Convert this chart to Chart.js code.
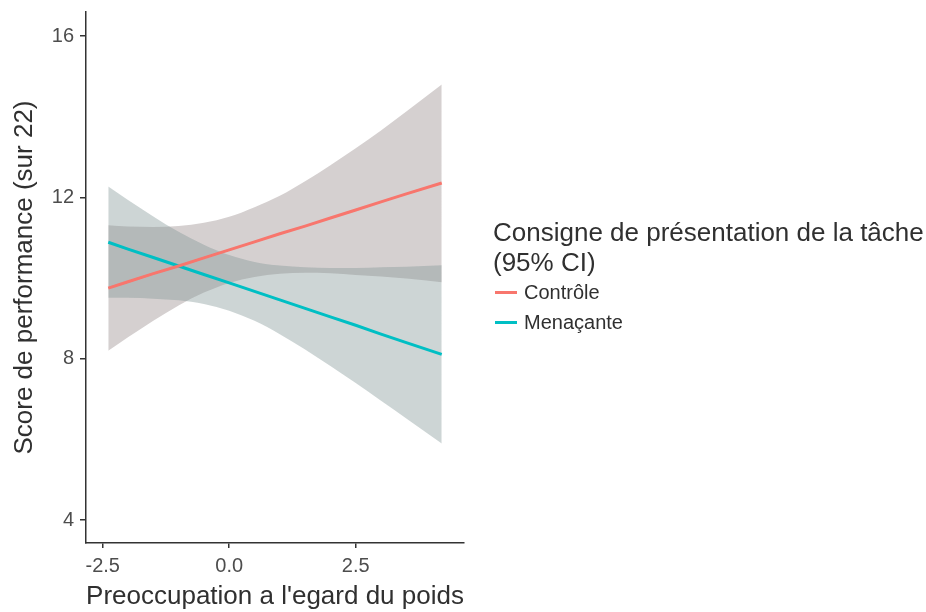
<!DOCTYPE html>
<html>
<head>
<meta charset="utf-8">
<script src="https://cdn.jsdelivr.net/npm/chart.js@4/dist/chart.umd.min.js"></script>
<style>
  body { margin: 0; background: #fff; font-family: "Liberation Sans", Arial, sans-serif; }
  #wrap { position: relative; width: 926px; height: 612px; }
  #legend { position: absolute; left: 493px; top: 217px; color: #303030; }
  #legend .title { font-size: 26px; line-height: 30px; }
  #legend .item { font-size: 20px; line-height: 30px; height: 30px; display: flex; align-items: center; }
  #legend .swatch { width: 22px; height: 3px; margin: 0 7px 0 2px; }
</style>
</head>
<body>
<div id="wrap">
  <canvas id="chart" width="926" height="612"></canvas>
  <div id="legend">
    <div class="title">Consigne de présentation de la tâche<br>(95% CI)</div>
    <div class="item"><span class="swatch" style="background:#F8766D"></span>Contrôle</div>
    <div class="item"><span class="swatch" style="background:#00BFC4"></span>Menaçante</div>
  </div>
</div>
<script>
// x positions of the fitted curves (preoccupation score)
const xGrid = [-2.39, -2, -1.5, -1, -0.5, 0, 0.5, 1, 1.5, 2, 2.5, 3, 3.5, 4.2];

// Contrôle: fitted line and 95% CI
const controleFit = [9.75, 9.91, 10.11, 10.30, 10.50, 10.70, 10.90, 11.10, 11.29, 11.49, 11.69, 11.89, 12.09, 12.36];
const controleUpper = [11.31, 11.28, 11.27, 11.29, 11.37, 11.52, 11.76, 12.04, 12.40, 12.80, 13.22, 13.66, 14.13, 14.80];
const controleLower = [8.20, 8.53, 8.94, 9.32, 9.64, 9.88, 10.03, 10.11, 10.13, 10.12, 10.08, 10.04, 9.99, 9.90];

// Menaçante: fitted line and 95% CI
const menacanteFit = [10.89, 10.72, 10.51, 10.30, 10.09, 9.88, 9.67, 9.46, 9.25, 9.04, 8.83, 8.61, 8.40, 8.11];
const menacanteUpper = [12.27, 11.94, 11.53, 11.15, 10.83, 10.57, 10.40, 10.31, 10.27, 10.25, 10.25, 10.27, 10.28, 10.32];
const menacanteLower = [9.51, 9.51, 9.49, 9.45, 9.36, 9.19, 8.94, 8.61, 8.23, 7.82, 7.40, 6.96, 6.52, 5.90];

const xTicks = [-2.5, 0, 2.5];
const yTicks = [4, 8, 12, 16];

const pts = ys => xGrid.map((x, i) => ({x: x, y: ys[i]}));

const lineStyle = {pointRadius: 0, borderWidth: 3, fill: false};
const bandStyle = {pointRadius: 0, borderWidth: 0, borderColor: 'transparent', cubicInterpolationMode: 'monotone'};

new Chart(document.getElementById('chart'), {
  type: 'line',
  data: {
    datasets: [
      {label: 'Contrôle', data: pts(controleFit), borderColor: '#F8766D', ...lineStyle},
      {label: 'Menaçante', data: pts(menacanteFit), borderColor: '#00BFC4', ...lineStyle},
      {label: 'ci-m-up', data: pts(menacanteUpper), backgroundColor: 'rgba(130,150,150,0.4)', fill: '+1', ...bandStyle},
      {label: 'ci-m-lo', data: pts(menacanteLower), fill: false, ...bandStyle},
      {label: 'ci-c-up', data: pts(controleUpper), backgroundColor: 'rgba(150,137,137,0.4)', fill: '+1', ...bandStyle},
      {label: 'ci-c-lo', data: pts(controleLower), fill: false, ...bandStyle}
    ]
  },
  options: {
    responsive: false,
    animation: false,
    layout: {padding: {top: 12, right: 462, left: 0, bottom: 0}},
    plugins: {legend: {display: false}, tooltip: {enabled: false}},
    scales: {
      x: {
        type: 'linear',
        min: -2.83,
        max: 4.64,
        afterFit: s => { s.height = 69; s.paddingLeft = 0; s.paddingRight = 0; },
        afterBuildTicks: s => { s.ticks = xTicks.map(v => ({value: v})); },
        border: {display: true, color: '#333', width: 1.5},
        grid: {display: true, drawOnChartArea: false, drawTicks: true, tickLength: 5, color: '#333', lineWidth: 1.5},
        ticks: {
          color: '#4d4d4d', padding: 6,
          font: {family: 'Liberation Sans', size: 20},
          callback: v => v.toFixed(1)
        },
        title: {
          display: true, text: "Preoccupation a l'egard du poids", color: '#303030',
          font: {family: 'Liberation Sans', size: 26}, padding: {top: 0, bottom: 0}
        }
      },
      y: {
        type: 'linear',
        min: 3.43,
        max: 16.6,
        afterFit: s => { s.width = 86; s.paddingTop = 0; s.paddingBottom = 0; },
        afterBuildTicks: s => { s.ticks = yTicks.map(v => ({value: v})); },
        border: {display: true, color: '#333', width: 1.5},
        grid: {display: true, drawOnChartArea: false, drawTicks: true, tickLength: 6, color: '#333', lineWidth: 1.5},
        ticks: {
          color: '#4d4d4d', padding: 6,
          font: {family: 'Liberation Sans', size: 20}
        },
        title: {
          display: true, text: 'Score de performance (sur 22)', color: '#303030',
          font: {family: 'Liberation Sans', size: 26}, padding: {top: 9, bottom: 0}
        }
      }
    }
  }
});
</script>
</body>
</html>
